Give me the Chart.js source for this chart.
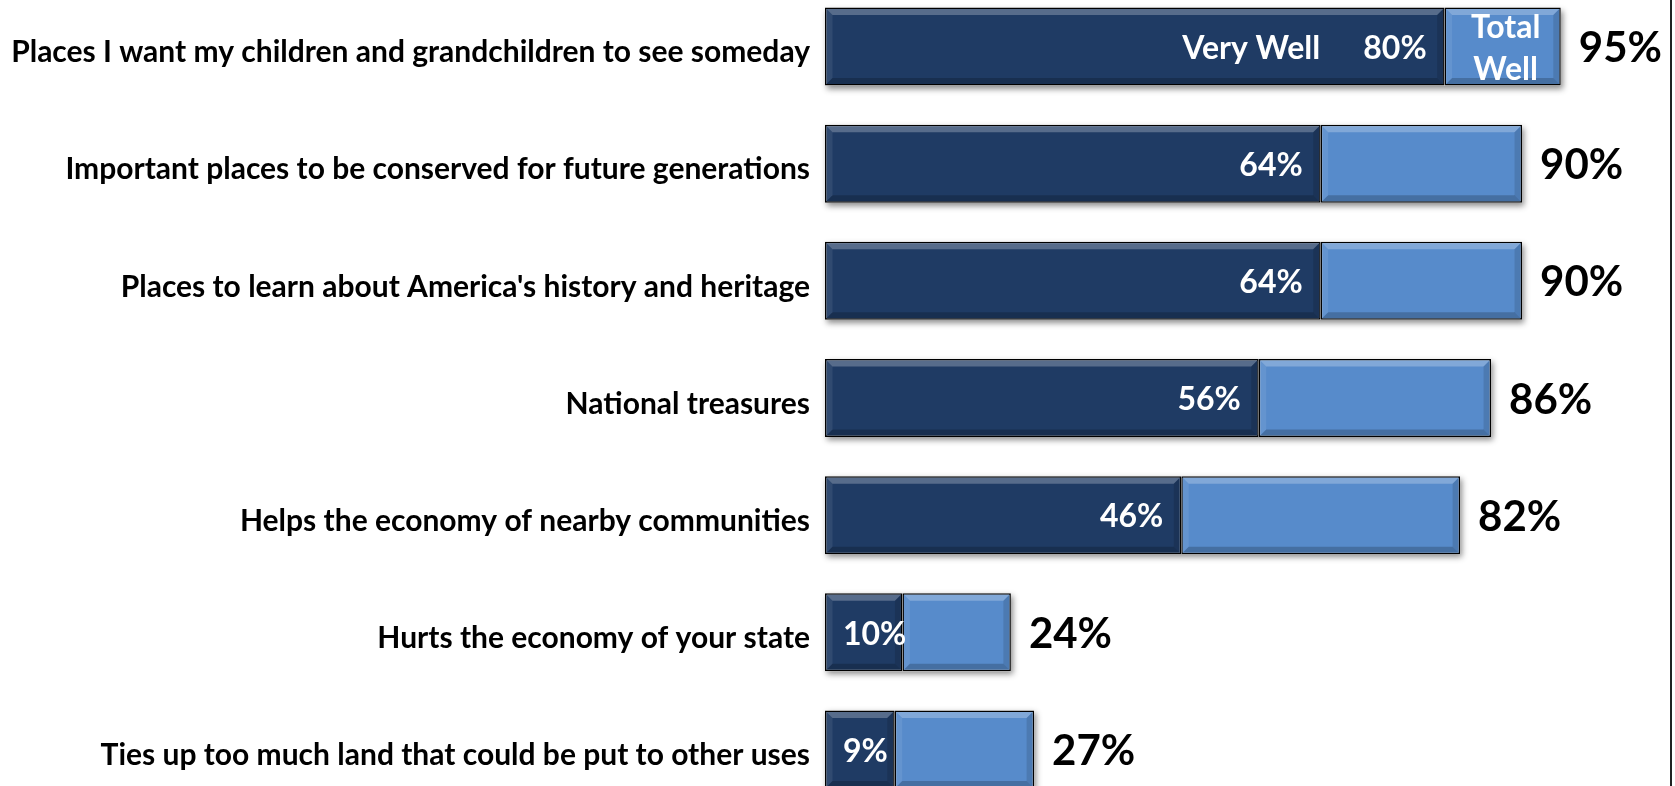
<!DOCTYPE html>
<html>
<head>
<meta charset="utf-8">
<script src="https://cdn.jsdelivr.net/npm/chart.js@4"></script>
<style>
  html, body { margin: 0; padding: 0; background: #ffffff; overflow: hidden; width: 1675px; height: 786px; }
  #wrap { position: absolute; left: 0; top: -12px; width: 1675px; height: 820px; }
  #frame { position: absolute; left: 1670px; top: 0; width: 2px; height: 786px; background: #222; }
</style>
</head>
<body>
<div id="wrap"><canvas id="c" width="1675" height="820"></canvas></div>
<div id="frame"></div>
<script>
const categories = [
  "Places I want my children and grandchildren to see someday",
  "Important places to be conserved for future generations",
  "Places to learn about America's history and heritage",
  "National treasures",
  "Helps the economy of nearby communities",
  "Hurts the economy of your state",
  "Ties up too much land that could be put to other uses"
];
const veryWell = [80, 64, 64, 56, 46, 10, 9];
const totalWell = [95, 90, 90, 86, 82, 24, 27];
const remainder = totalWell.map((t, i) => t - veryWell[i]);

const DARK = '#1F3B64';
const LIGHT = '#578BCB';
const FONT = 'Lato, "Open Sans", sans-serif';

function barRect(el) {
  const l = Math.min(el.base, el.x), r = Math.max(el.base, el.x);
  return { l, r, t: el.y - el.height / 2, b: el.y + el.height / 2 };
}

const decor = {
  id: 'decor',
  beforeDatasetsDraw(chart) {
    const ctx = chart.ctx;
    const m0 = chart.getDatasetMeta(0), m1 = chart.getDatasetMeta(1);
    ctx.save();
    ctx.shadowColor = 'rgba(0,0,0,0.45)';
    ctx.shadowBlur = 6;
    ctx.shadowOffsetX = 2;
    ctx.shadowOffsetY = 3;
    ctx.fillStyle = '#ffffff';
    m0.data.forEach((el, i) => {
      const a = barRect(el), b = barRect(m1.data[i]);
      ctx.fillRect(a.l, a.t, b.r - a.l, a.b - a.t);
    });
    ctx.restore();
  },
  afterDatasetsDraw(chart) {
    const ctx = chart.ctx;
    const m0 = chart.getDatasetMeta(0), m1 = chart.getDatasetMeta(1);
    const bw = 1.5, bv = 6;
    ctx.save();
    [m0, m1].forEach(meta => {
      meta.data.forEach(el => {
        const r0 = barRect(el);
        const l = r0.l + bw, r = r0.r - bw, t = r0.t + bw, b = r0.b - bw;
        const poly = (pts, col) => {
          ctx.beginPath();
          ctx.moveTo(pts[0][0], pts[0][1]);
          for (let k = 1; k < pts.length; k++) ctx.lineTo(pts[k][0], pts[k][1]);
          ctx.closePath();
          ctx.fillStyle = col;
          ctx.fill();
        };
        poly([[l, t], [r, t], [r - bv, t + bv], [l + bv, t + bv]], 'rgba(255,255,255,0.25)');
        poly([[l, t], [l + bv, t + bv], [l + bv, b - bv], [l, b]], 'rgba(255,255,255,0.08)');
        poly([[l, b], [l + bv, b - bv], [r - bv, b - bv], [r, b]], 'rgba(0,0,0,0.2)');
        poly([[r, t], [r - bv, t + bv], [r - bv, b - bv], [r, b]], 'rgba(0,0,0,0.12)');
      });
    });

    // labels
    ctx.textBaseline = 'middle';
    m0.data.forEach((el, i) => {
      const a = barRect(el);
      const cy = el.y + 2;
      ctx.font = 'bold 32px ' + FONT;
      ctx.fillStyle = '#ffffff';
      const txt = veryWell[i] + '%';
      const w = ctx.measureText(txt).width;
      let xr = a.r - 18;
      if (xr - w < a.l + 18) xr = a.l + 18 + w;
      ctx.textAlign = 'right';
      ctx.fillText(txt, xr, cy);
      if (i === 0) {
        ctx.fillText('Very Well', xr - w - 43, cy);
        const bl = barRect(m1.data[i]);
        ctx.font = 'bold 32px ' + FONT;
        ctx.textAlign = 'center';
        ctx.textBaseline = 'alphabetic';
        const cx = (bl.l + bl.r) / 2 + 3;
        ctx.fillText('Total', cx, el.y - 9);
        ctx.fillText('Well', cx, el.y + 33);
        ctx.textBaseline = 'middle';
      }
      const b1 = barRect(m1.data[i]);
      ctx.font = 'bold 42px ' + FONT;
      ctx.fillStyle = '#000000';
      ctx.textAlign = 'left';
      ctx.fillText(totalWell[i] + '%', b1.r + 18, el.y + 2);
    });
    ctx.restore();
  }
};

new Chart(document.getElementById('c'), {
  type: 'bar',
  data: {
    labels: categories,
    datasets: [
      { label: 'Very Well', data: veryWell, backgroundColor: DARK, borderColor: '#000000', borderWidth: 1.5, borderSkipped: false, categoryPercentage: 1, barPercentage: 0.666 },
      { label: 'Total Well', data: remainder, backgroundColor: LIGHT, borderColor: '#000000', borderWidth: 1.5, borderSkipped: false, categoryPercentage: 1, barPercentage: 0.666 }
    ]
  },
  options: {
    indexAxis: 'y',
    responsive: false,
    animation: false,
    devicePixelRatio: 1,
    layout: { padding: { left: 0, right: 75.5, top: 0, bottom: 0 } },
    plugins: { legend: { display: false }, tooltip: { enabled: false } },
    scales: {
      x: { stacked: true, min: 0, max: 100, display: false },
      y: {
        stacked: true,
        grid: { display: false, drawTicks: false },
        border: { display: false },
        ticks: { color: '#000000', padding: 15, labelOffset: 6, font: { family: FONT, weight: 'bold', size: 30 } },
        afterFit(scale) { scale.width = 825; scale.paddingTop = 0; scale.paddingBottom = 0; }
      }
    }
  },
  plugins: [decor]
});
</script>
</body>
</html>
